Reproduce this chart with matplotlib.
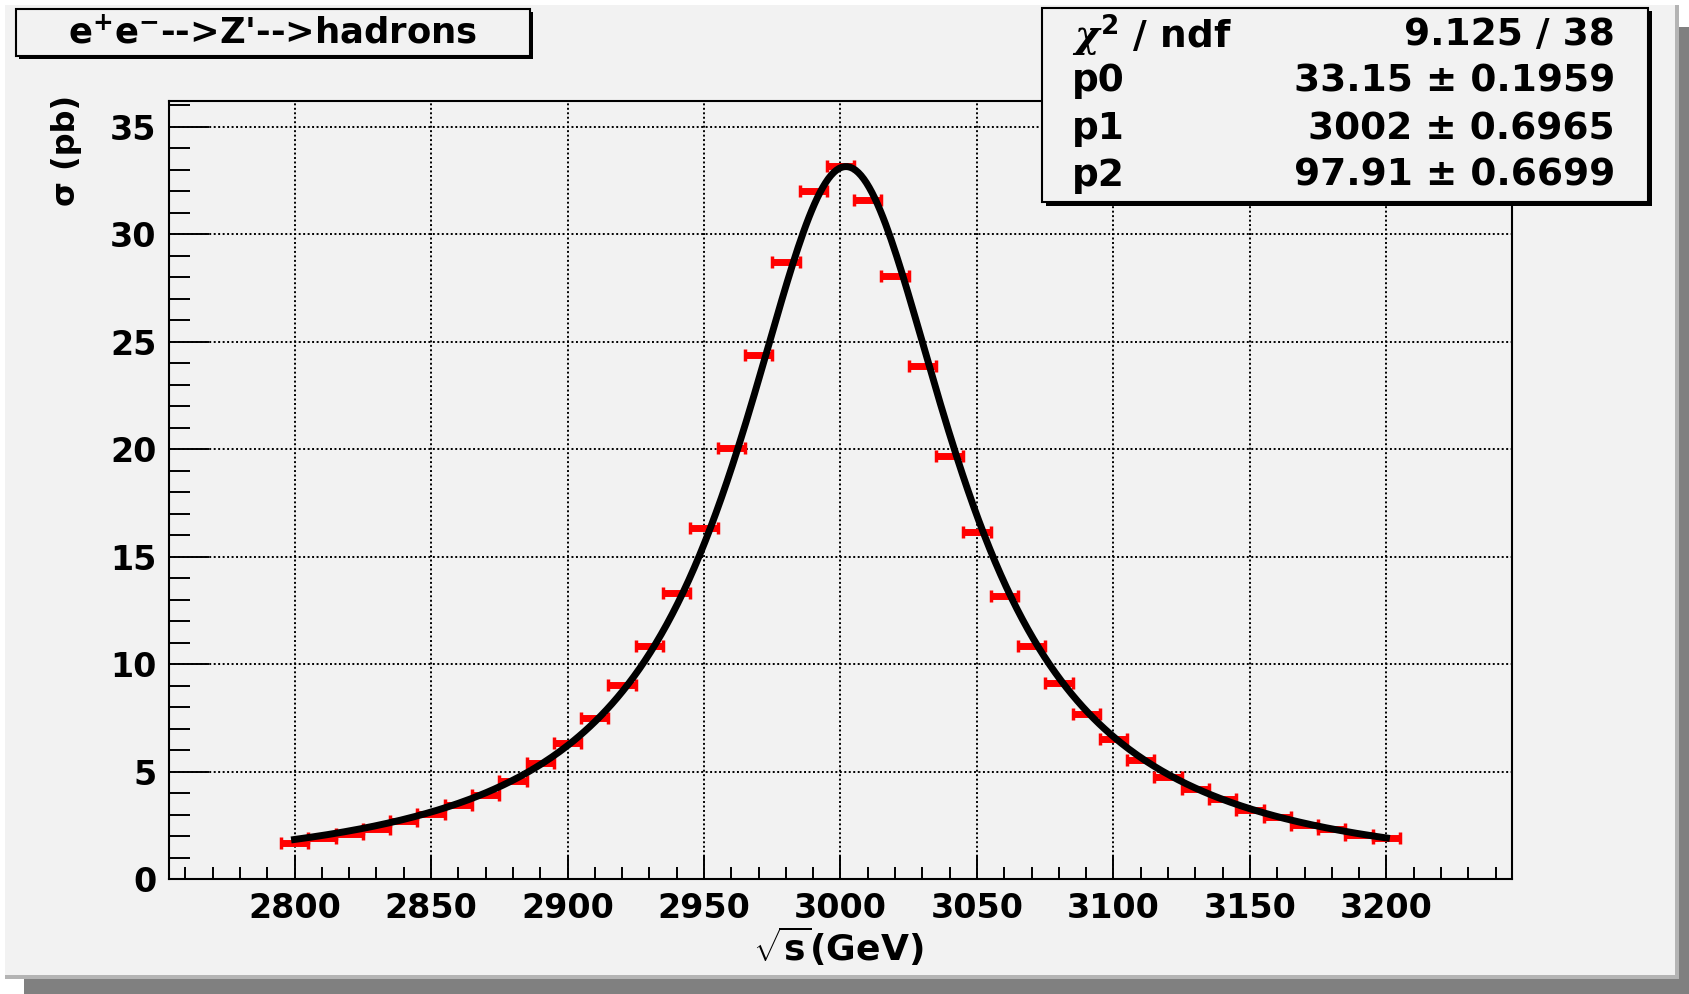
"""
e+e- -> Z' -> hadrons : 단면적 스캔 + Breit-Wigner 피팅 (ROOT 스타일 재현)
"""
import matplotlib
matplotlib.use("Agg")
import matplotlib.pyplot as plt
import matplotlib.patches as mpatches
from matplotlib.ticker import MultipleLocator
import numpy as np

# 캔버스 크기 (px)
W, H = 1690, 994
PAD_GRAY = "#f2f2f2"
SHADOW = "#808080"
BEVEL = "#b4b4b4"
RED = "#ff0000"
BLACK = "#000000"

# 데이터
ENERGY = [2800, 2810, 2820, 2830, 2840, 2850, 2860, 2870, 2880, 2890,
          2900, 2910, 2920, 2930, 2940, 2950, 2960, 2970, 2980, 2990,
          3000, 3010, 3020, 3030, 3040, 3050, 3060, 3070, 3080, 3090,
          3100, 3110, 3120, 3130, 3140, 3150, 3160, 3170, 3180, 3190,
          3200]
SIGMA = [1.69, 1.92, 2.09, 2.33, 2.70, 3.02, 3.43, 3.91, 4.57, 5.38,
         6.31, 7.47, 9.02, 10.84, 13.33, 16.31, 20.06, 24.40, 28.71, 32.00,
         33.16, 31.61, 28.06, 23.86, 19.69, 16.14, 13.16, 10.85, 9.10, 7.66,
         6.51, 5.55, 4.76, 4.20, 3.72, 3.21, 2.90, 2.51, 2.31, 2.05,
         1.89]
E_HALF_BIN = 5

# 피팅 결과 (통계 박스)
CHI2, NDF = 9.125, 38
P0, P0_ERR = 33.15, 0.1959
P1, P1_ERR = 3002, 0.6965
P2, P2_ERR = 97.91, 0.6699

plt.rcParams["font.family"] = ["DejaVu Sans"]
plt.rcParams["font.weight"] = "bold"
plt.rcParams["mathtext.fontset"] = "custom"
plt.rcParams["mathtext.rm"] = "DejaVu Sans:bold"
plt.rcParams["mathtext.bf"] = "DejaVu Sans:bold"
plt.rcParams["mathtext.sf"] = "DejaVu Sans:bold"
plt.rcParams["mathtext.it"] = "DejaVu Serif:italic"


def _rect(x0, y0, x1, y1, **kw):
    """이미지 좌표(px, y 아래 방향) → figure 비율 사각형"""
    return mpatches.Rectangle((x0 / W, 1 - y1 / H), (x1 - x0) / W, (y1 - y0) / H,
                              transform=fig.transFigure, **kw)


def breit_wigner(x):
    return P0 / (1 + ((x - P1) / (P2 / 2)) ** 2)


fig = plt.figure(figsize=(W / 100, H / 100), dpi=100, facecolor="white")

# 캔버스 그림자 / 베벨 / 패드
fig.patches.append(_rect(24, 27, 1690, 994, facecolor=SHADOW, edgecolor="none", zorder=-3))
fig.patches.append(_rect(5, 5, 1679, 979, facecolor=BEVEL, edgecolor="none", zorder=-2))
fig.patches.append(_rect(5, 5, 1675, 975, facecolor=PAD_GRAY, edgecolor="none", zorder=-1))

ax = fig.add_axes([169 / W, 1 - 879 / H, (1512 - 169) / W, (879 - 101) / H])
ax.set_facecolor(PAD_GRAY)

# 데이터 점 (가로 오차 막대)
ax.errorbar(ENERGY, SIGMA, xerr=E_HALF_BIN, fmt="none", ecolor=RED,
            elinewidth=5, capsize=4.5, capthick=2.5, zorder=3)

# 피팅 곡선
xs = np.linspace(ENERGY[0], ENERGY[-1], 400)
ax.plot(xs, breit_wigner(xs), color=BLACK, linewidth=5, zorder=4)

ax.set_xlim(2754, 3246)
ax.set_ylim(0, 36.2)

ax.xaxis.set_major_locator(MultipleLocator(50))
ax.xaxis.set_minor_locator(MultipleLocator(10))
ax.yaxis.set_major_locator(MultipleLocator(5))
ax.yaxis.set_minor_locator(MultipleLocator(1))

ax.tick_params(axis="x", which="major", direction="in", length=17, width=1.4,
               pad=9, labelsize=24)
ax.tick_params(axis="x", which="minor", direction="in", length=8.5, width=1.4)
ax.tick_params(axis="y", which="major", direction="in", length=29, width=1.4,
               pad=9, labelsize=24)
ax.tick_params(axis="y", which="minor", direction="in", length=15, width=1.4)
for lab in ax.get_xticklabels() + ax.get_yticklabels():
    lab.set_fontweight("bold")

for sp in ax.spines.values():
    sp.set_linewidth(1.5)
    sp.set_color(BLACK)

ax.grid(which="major", color=BLACK, linestyle=(0, (1, 1.3)), linewidth=1.4)
ax.set_axisbelow(True)

# 축 제목
fig.text(838 / W, 1 - 946 / H, r"$\sqrt{\mathbf{s}}$(GeV)", ha="center", va="center",
         fontsize=26, fontweight="bold")
fig.text(67 / W, 1 - 150 / H, "σ (pb)", ha="center", va="center", rotation=90,
         fontsize=23, fontweight="bold")

# 제목 박스
fig.patches.append(_rect(19, 12, 533, 59, facecolor=BLACK, edgecolor="none", zorder=5))
fig.patches.append(_rect(16, 9, 530, 56, facecolor=PAD_GRAY, edgecolor=BLACK,
                         linewidth=1.5, zorder=6))
fig.text(273 / W, 1 - 33 / H, r"e$^{\mathbf{+}}$e$^{\mathbf{-}}$-->Z'-->hadrons",
         ha="center", va="center", fontsize=25.5, fontweight="bold", zorder=7)

# 통계 박스
fig.patches.append(_rect(1046, 11, 1652, 206, facecolor=BLACK, edgecolor="none", zorder=5))
fig.patches.append(_rect(1042, 8, 1648, 202, facecolor=PAD_GRAY, edgecolor=BLACK,
                         linewidth=1.5, zorder=6))
stats_rows = [
    (r"$\chi^{\mathbf{2}}$ / ndf", f"{CHI2:.3f} / {NDF}"),
    ("p0", f"{P0:.2f} ± {P0_ERR:.4f}"),
    ("p1", f"{P1:d} ± {P1_ERR:.4f}"),
    ("p2", f"{P2:.2f} ± {P2_ERR:.4f}"),
]
row_y = [35, 81, 129, 176]
for (name, val), y in zip(stats_rows, row_y):
    fig.text(1072 / W, 1 - y / H, name, ha="left", va="center",
             fontsize=27, fontweight="bold", zorder=7)
    fig.text(1615 / W, 1 - y / H, val, ha="right", va="center",
             fontsize=27, fontweight="bold", zorder=7)

fig.savefig("out.png", dpi=100, facecolor=fig.get_facecolor())
plt.close(fig)
